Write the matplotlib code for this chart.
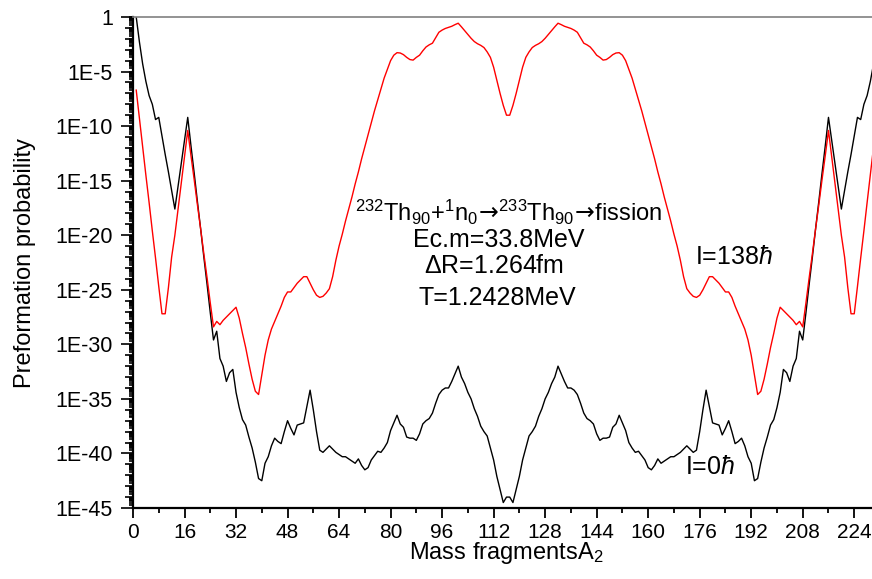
import matplotlib
matplotlib.use("Agg")
import matplotlib.pyplot as plt
from matplotlib.ticker import FixedLocator, FixedFormatter, MultipleLocator, LogLocator, NullFormatter
import numpy as np

plt.rcParams['font.family'] = ['Liberation Sans', 'DejaVu Sans']
plt.rcParams['mathtext.fontset'] = 'custom'
plt.rcParams['mathtext.rm'] = 'Liberation Sans'
plt.rcParams['mathtext.it'] = 'Liberation Sans:italic'
plt.rcParams['mathtext.bf'] = 'Liberation Sans:bold'
plt.rcParams['mathtext.sf'] = 'DejaVu Sans'

# fragment mass A2 = 1 .. 232
mass = np.arange(1, 233)

# log10 of preformation probability, I = 0 hbar
log_p_l0 = [
    0.0, -2.3, -4.3, -5.9, -7.2, -8.0, -9.4, -9.2, -10.9, -12.6,
    -14.2, -15.9, -17.6, -15.5, -13.4, -11.3, -9.2, -11.8, -14.3, -16.9,
    -19.4, -22.0, -24.5, -27.1, -29.6, -28.8, -31.3, -32.0, -33.4, -32.6,
    -32.3, -34.4, -35.8, -36.9, -37.4, -38.5, -39.5, -40.8, -42.3, -42.5,
    -40.9, -40.3, -39.3, -38.6, -38.9, -39.1, -38.0, -37.0, -37.7, -38.3,
    -37.4, -37.3, -37.2, -35.7, -34.2, -36.0, -38.0, -39.7, -39.9, -39.6,
    -39.3, -39.6, -39.9, -40.1, -40.3, -40.3, -40.5, -40.7, -40.9, -40.5,
    -41.1, -41.5, -41.3, -40.6, -40.2, -39.8, -39.9, -39.5, -39.0, -37.9,
    -37.2, -36.5, -37.3, -37.6, -38.5, -38.6, -38.6, -38.8, -38.2, -37.3,
    -37.0, -36.8, -36.3, -35.4, -34.6, -34.2, -34.0, -34.0, -33.4, -32.7,
    -32.0, -33.0, -33.6, -34.4, -35.0, -35.9, -36.6, -37.5, -38.0, -38.4,
    -39.5, -40.6, -42.1, -43.3, -44.5, -44.0,
    -44.0, -44.5, -43.3, -42.1, -40.6, -39.5, -38.4, -38.0, -37.5, -36.6,
    -35.9, -35.0, -34.4, -33.6, -33.0, -32.0, -32.7, -33.4, -34.0, -34.0,
    -34.2, -34.6, -35.4, -36.3, -36.8, -37.0, -37.3, -38.2, -38.8, -38.6,
    -38.6, -38.5, -37.6, -37.3, -36.5, -37.2, -37.9, -39.0, -39.5, -39.9,
    -39.8, -40.2, -40.6, -41.3, -41.5, -41.1, -40.5, -40.9, -40.7, -40.5,
    -40.3, -40.3, -40.1, -39.9, -39.6, -39.3, -39.6, -39.9, -39.7, -38.0,
    -36.0, -34.2, -35.7, -37.2, -37.3, -37.4, -38.3, -37.7, -37.0, -38.0,
    -39.1, -38.9, -38.6, -39.3, -40.3, -40.9, -42.5, -42.3, -40.8, -39.5,
    -38.5, -37.4, -36.9, -35.8, -34.4, -32.3, -32.6, -33.4, -32.0, -31.3,
    -28.8, -29.6, -27.1, -24.5, -22.0, -19.4, -16.9, -14.3, -11.8, -9.2,
    -11.3, -13.4, -15.5, -17.6, -15.9, -14.2, -12.6, -10.9, -9.2, -9.4,
    -8.0, -7.2, -5.9, -4.3, -2.3, 0.0,
]

# log10 of preformation probability, I = 138 hbar
log_p_l138 = [
    -6.7, -9.3, -11.9, -14.5, -17.0, -19.6, -22.1, -24.7, -27.2, -27.2,
    -24.8, -22.0, -20.0, -17.6, -15.2, -12.8, -10.4, -12.7, -14.9, -17.2,
    -19.4, -21.7, -23.9, -26.2, -28.4, -27.9, -28.2, -27.8, -27.5, -27.2,
    -26.9, -26.6, -27.6, -29.0, -30.3, -31.8, -33.2, -34.3, -34.6, -32.8,
    -31.0, -29.6, -28.6, -27.9, -27.2, -26.5, -25.7, -25.2, -25.2, -24.8,
    -24.4, -24.1, -23.8, -23.8, -24.4, -25.0, -25.5, -25.7, -25.6, -25.3,
    -24.9, -23.8, -22.3, -21.0, -19.9, -18.7, -17.6, -16.5, -15.3, -14.2,
    -13.0, -11.9, -10.8, -9.7, -8.6, -7.6, -6.6, -5.6, -4.8, -4.0,
    -3.5, -3.27, -3.3, -3.45, -3.7, -3.9, -3.95, -3.7, -3.5, -3.1,
    -2.75, -2.55, -2.4, -1.9, -1.4, -1.2, -1.05, -0.95, -0.85, -0.7,
    -0.57, -0.9, -1.25, -1.6, -1.95, -2.25, -2.45, -2.6, -2.8, -3.2,
    -3.7, -4.6, -5.8, -7.0, -8.1, -9.0,
    -9.0, -8.1, -7.0, -5.8, -4.6, -3.7, -3.2, -2.8, -2.6, -2.45,
    -2.25, -1.95, -1.6, -1.25, -0.9, -0.57, -0.7, -0.85, -0.95, -1.05,
    -1.2, -1.4, -1.9, -2.4, -2.55, -2.75, -3.1, -3.5, -3.7, -3.95,
    -3.9, -3.7, -3.45, -3.3, -3.27, -3.5, -4.0, -4.8, -5.6, -6.6,
    -7.6, -8.6, -9.7, -10.8, -11.9, -13.0, -14.2, -15.3, -16.5, -17.6,
    -18.7, -19.9, -21.0, -22.3, -23.8, -24.9, -25.3, -25.6, -25.7, -25.5,
    -25.0, -24.4, -23.8, -23.8, -24.1, -24.4, -24.8, -25.2, -25.2, -25.7,
    -26.5, -27.2, -27.9, -28.6, -29.6, -31.0, -32.8, -34.6, -34.3, -33.2,
    -31.8, -30.3, -29.0, -27.6, -26.6, -26.9, -27.2, -27.5, -27.8, -28.2,
    -27.9, -28.4, -26.2, -23.9, -21.7, -19.4, -17.2, -14.9, -12.7, -10.4,
    -12.8, -15.2, -17.6, -20.0, -22.0, -24.8, -27.2, -27.2, -24.7, -22.1,
    -19.6, -17.0, -14.5, -11.9, -9.3, -6.7,
]

ytick_labels = ['1', '1E-5', '1E-10', '1E-15', '1E-20', '1E-25',
                '1E-30', '1E-35', '1E-40', '1E-45']
xtick_labels = ['0', '16', '32', '48', '64', '80', '96', '112', '128',
                '144', '160', '176', '192', '208', '224']

fig = plt.figure(figsize=(8.72, 5.79), dpi=100)
# axes run past the right edge of the figure
ax = fig.add_axes([133 / 872, 71 / 579, 747 / 872, 491 / 579])

ax.plot(mass, 10.0 ** np.array(log_p_l0), color='black', lw=1.0)
ax.plot(mass, 10.0 ** np.array(log_p_l138), color='red', lw=1.0)

ax.set_yscale('log')
ax.set_xlim(0, 232)
ax.set_ylim(1e-45, 1.0)

# y ticks: one per decade, labelled every five decades
decades = [10.0 ** -k for k in range(46)]
dec_labels = []
for k in range(46):
    dec_labels.append(ytick_labels[k // 5] if k % 5 == 0 else '')
ax.yaxis.set_major_locator(FixedLocator(decades))
ax.yaxis.set_major_formatter(FixedFormatter(dec_labels))
ax.yaxis.set_minor_locator(LogLocator(base=10, subs=np.arange(2, 10), numticks=500))
ax.yaxis.set_minor_formatter(NullFormatter())
ax.tick_params(axis='y', which='major', direction='out', length=6, width=1.2,
               labelsize=15.5, pad=8.5)
ax.tick_params(axis='y', which='minor', direction='out', length=3.2, width=1.2)
for k, tick in enumerate(ax.yaxis.get_major_ticks()):
    if k % 5 == 0:
        tick.tick1line.set_markersize(9)

ax.xaxis.set_major_locator(FixedLocator([int(s) for s in xtick_labels]))
ax.xaxis.set_major_formatter(FixedFormatter(xtick_labels))
ax.xaxis.set_minor_locator(MultipleLocator(8))
ax.tick_params(axis='x', which='major', direction='out', length=7, width=1.3,
               labelsize=15, pad=4)
ax.tick_params(axis='x', which='minor', direction='out', length=3.5, width=1.3)

ax.spines['left'].set_linewidth(1.6)
ax.spines['bottom'].set_linewidth(1.6)
ax.spines['top'].set_color('#808080')
ax.spines['top'].set_linewidth(1.2)
ax.spines['right'].set_visible(False)

ax.set_xlabel('Mass fragmentsA$_2$', fontsize=17)
ax.xaxis.set_label_coords(0.5, -0.066)
ax.set_ylabel('Preformation probability', fontsize=17)
ax.yaxis.set_label_coords(-0.130, 0.5)

ax.text(116.8, 10 ** -17.9,
        r'$^{232}$Th$_{90}$+$^{1}$n$_{0}$$\!\mathsf{\rightarrow}\!$$^{233}$Th$_{90}$$\!\mathsf{\rightarrow}\!$fission',
        fontsize=17, ha='center', va='center')
ax.text(113.7, 10 ** -20.4, 'Ec.m=33.8MeV', fontsize=18, ha='center', va='center')
ax.text(112.1, 10 ** -22.8, r'$\Delta$R=1.264fm', fontsize=18, ha='center', va='center')
ax.text(113.0, 10 ** -25.75, 'T=1.2428MeV', fontsize=18, ha='center', va='center')
ax.text(186.7, 10 ** -22.0, r'I=138$\hbar$', fontsize=18, ha='center', va='center')
ax.text(179.2, 10 ** -41.2, r'I=0$\hbar$', fontsize=18, ha='center', va='center')

fig.savefig('out.png', dpi=100)
